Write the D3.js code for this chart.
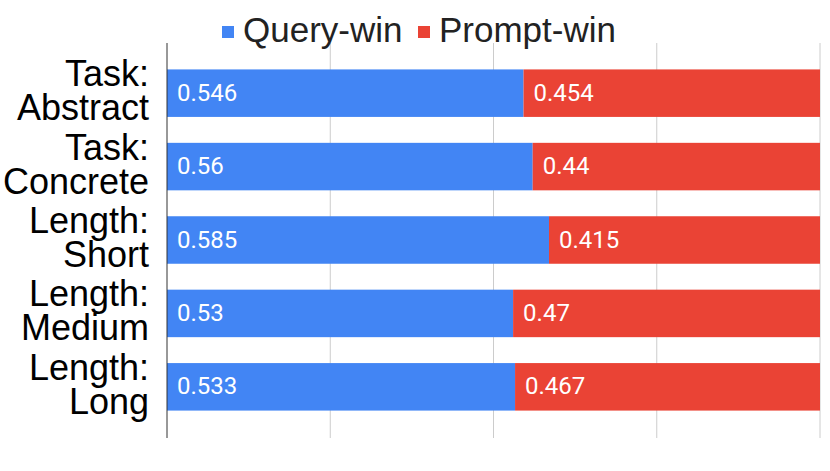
<!DOCTYPE html>
<html><head><meta charset="utf-8">
<script src="https://cdn.jsdelivr.net/npm/d3@7"></script>
<style>body{margin:0;background:#fff;}svg{display:block;}</style>
</head><body>
<svg id="c" width="830" height="471"></svg>
<script>
const categories = [["Task:","Abstract"],["Task:","Concrete"],["Length:","Short"],["Length:","Medium"],["Length:","Long"]];
const queryWin = [0.546, 0.56, 0.585, 0.53, 0.533];
const promptWin = [0.454, 0.44, 0.415, 0.47, 0.467];
const seriesNames = ["Query-win", "Prompt-win"];
const colors = ["#4285F4", "#EA4335"];
const xTicks = [0, 0.25, 0.5, 0.75, 1];

const svg = d3.select("#c");
const x = d3.scaleLinear().domain([0, 1]).range([167, 820]);
const keys = categories.map((d, i) => i);
const y = d3.scaleBand().domain(keys).range([56.5, 423.5]).paddingInner(0.353).paddingOuter(0.176);

// gridlines
svg.append("g").selectAll("line").data(xTicks.slice(1)).join("line")
  .attr("x1", d => x(d)).attr("x2", d => x(d)).attr("y1", 43).attr("y2", 438)
  .attr("stroke", "#ccc").attr("stroke-width", 1);

const rows = categories.map((c, i) => ({i, q: queryWin[i], p: promptWin[i]}));
const g = svg.append("g");
g.selectAll("rect.q").data(rows).join("rect").attr("class", "q")
  .attr("x", x(0)).attr("y", d => y(d.i)).attr("width", d => x(d.q) - x(0)).attr("height", y.bandwidth())
  .attr("fill", colors[0]);
g.selectAll("rect.p").data(rows).join("rect").attr("class", "p")
  .attr("x", d => x(d.q)).attr("y", d => y(d.i)).attr("width", d => x(d.q + d.p) - x(d.q)).attr("height", y.bandwidth())
  .attr("fill", colors[1]);

const lblFont = "Roboto, 'Liberation Sans', Arial, sans-serif";
g.selectAll("text.q").data(rows).join("text")
  .attr("x", x(0) + 10).attr("y", d => y(d.i) + y.bandwidth() / 2 + 7.5)
  .attr("fill", "#fff").style("font-family", lblFont).style("font-size", "24px")
  .text(d => String(d.q));
g.selectAll("text.p").data(rows).join("text")
  .attr("x", d => x(d.q) + 10).attr("y", d => y(d.i) + y.bandwidth() / 2 + 7.5)
  .attr("fill", "#fff").style("font-family", lblFont).style("font-size", "24px")
  .text(d => String(d.p));

// left axis line
svg.append("line").attr("x1", x(0)).attr("x2", x(0)).attr("y1", 43).attr("y2", 438)
  .attr("stroke", "#333").attr("stroke-width", 1);

// category labels
const cat = svg.append("g");
categories.forEach((c, i) => {
  const cy = y(i) + y.bandwidth() / 2;
  const t = cat.append("text").attr("text-anchor", "end")
    .style("font-family", "'Liberation Sans', Arial, sans-serif").style("font-size", "36px").attr("fill", "#000");
  t.append("tspan").attr("x", 149).attr("y", cy - 7).text(c[0]);
  t.append("tspan").attr("x", 149).attr("y", cy + 27).text(c[1]);
});

// legend
const leg = svg.append("g");
const legX = [222, 418];
seriesNames.forEach((n, i) => {
  leg.append("rect").attr("x", legX[i]).attr("y", 26).attr("width", 12).attr("height", 12).attr("fill", colors[i]);
  leg.append("text").attr("x", legX[i] + 21).attr("y", 42)
    .style("font-family", "'Liberation Sans', Arial, sans-serif").style("font-size", "35px").attr("fill", "#222").text(n);
});
</script>
</body></html>
